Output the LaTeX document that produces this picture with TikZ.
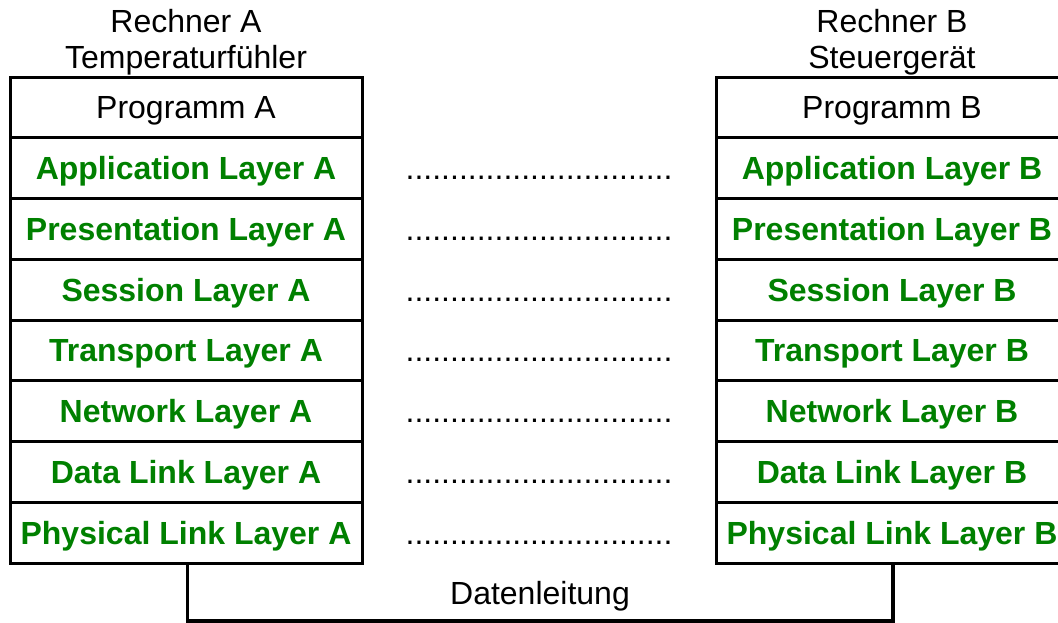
\documentclass[tikz,border=0pt]{standalone}
\usepackage{fontspec}
\setmainfont{Liberation Sans}
\definecolor{layergreen}{RGB}{0,128,0}
\begin{document}
\begin{tikzpicture}[x=1pt,y=-1pt,
  every node/.style={font=\fontsize{32pt}{36pt}\selectfont, inner sep=0pt},
  cell/.style={draw, line width=3pt, minimum width=352pt, minimum height=60.75pt,
               text height=23pt, text depth=0pt},
  layer/.style={cell, text=layergreen, font=\fontsize{32pt}{36pt}\selectfont\bfseries},
  dots/.style={text height=23pt, text depth=0pt},
  head/.style={anchor=base},
  wire/.style={line width=3.5pt}
]
\useasboundingbox (0,0) rectangle (1058,623);

% computer headings
\node[head] (hA1) at (186,33) {Rechner A};
\node[head] (hA2) at (186,69) {Temperaturfühler};
\node[head] (hB1) at (892,33) {Rechner B};
\node[head] (hB2) at (892,69) {Steuergerät};

% program rows
\node[cell] (progA) at (186,107.4) {Programm A};
\node[cell] (progB) at (892,107.4) {Programm B};

% protocol stacks
\foreach \i/\name in {1/Application Layer,2/Presentation Layer,3/Session Layer,
                      4/Transport Layer,5/Network Layer,6/Data Link Layer,
                      7/Physical Link Layer}{
  \pgfmathsetmacro{\yc}{107.4+60.75*\i}
  \node[layer] (a\i) at (186,\yc) {\name{} A};
  \node[layer] (b\i) at (892,\yc) {\name{} B};
  \node[dots] (d\i) at (539,\yc) {..............................};
}

% physical data line between both stacks
\coordinate (busL) at (187.5,621);
\coordinate (busR) at (893,621);
\draw[wire] (a7.south -| busL) -- (busL) -- (busR) -- (b7.south -| busR);
\node[head] (bus) at (540,604) {Datenleitung};
\end{tikzpicture}
\end{document}
